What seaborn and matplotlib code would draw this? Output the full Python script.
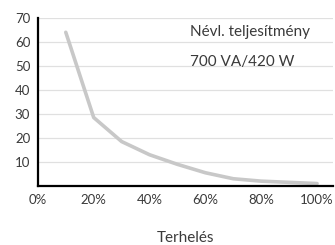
import matplotlib
matplotlib.use("Agg")
import matplotlib.pyplot as plt
import seaborn as sns
import pandas as pd

load_pct = [10, 20, 30, 40, 50, 60, 70, 80, 90, 100]
runtime = [64, 28.5, 18.5, 13, 9, 5.5, 3, 2, 1.5, 1]
x_ticks = [0, 10, 20, 30, 40, 50, 60, 70, 80, 90, 100]
x_labels = ["0%", "", "20%", "", "40%", "", "60%", "", "80%", "", "100%"]
y_ticks = [0, 10, 20, 30, 40, 50, 60, 70]
y_labels = ["", "10", "20", "30", "40", "50", "60", "70"]
note_lines = ["Névl. teljesítmény", "700 VA/420 W"]
x_title = "Terhelés"

sns.set_style("white")
plt.rcParams['font.family'] = ['Lato', 'DejaVu Sans']

df = pd.DataFrame({"load": load_pct, "runtime": runtime})
fig = plt.figure(figsize=(3.35, 2.45), dpi=100)
ax = fig.add_axes([0.113, 0.241, 0.881, 0.686])
sns.lineplot(data=df, x="load", y="runtime", ax=ax, color="#c8c8c8", linewidth=2.6,
             solid_capstyle="round")
ax.set_xlim(0, 105.7)
ax.set_ylim(0, 70)
ax.set_xticks(x_ticks)
ax.set_xticklabels(x_labels)
ax.set_yticks(y_ticks)
ax.set_yticklabels(y_labels)
for y in y_ticks[1:]:
    ax.axhline(y, color="#e0e0e0", linewidth=0.9, zorder=0)
for s in ["top", "right"]:
    ax.spines[s].set_visible(False)
for s in ["left", "bottom"]:
    ax.spines[s].set_color("black")
    ax.spines[s].set_linewidth(1.6)
ax.tick_params(axis="both", direction="out", length=3.5, width=1.6, color="black",
               labelsize=9.5, labelcolor="#3a3a3a", pad=2)
ax.set_xlabel(x_title, fontsize=11, color="#3a3a3a", labelpad=18)
ax.set_ylabel("")
ax.text(54.5, 64.3, note_lines[0], fontsize=11, color="#3a3a3a", va="center")
ax.text(54.5, 51.8, note_lines[1], fontsize=11, color="#3a3a3a", va="center")
fig.savefig("out.png", dpi=100)
